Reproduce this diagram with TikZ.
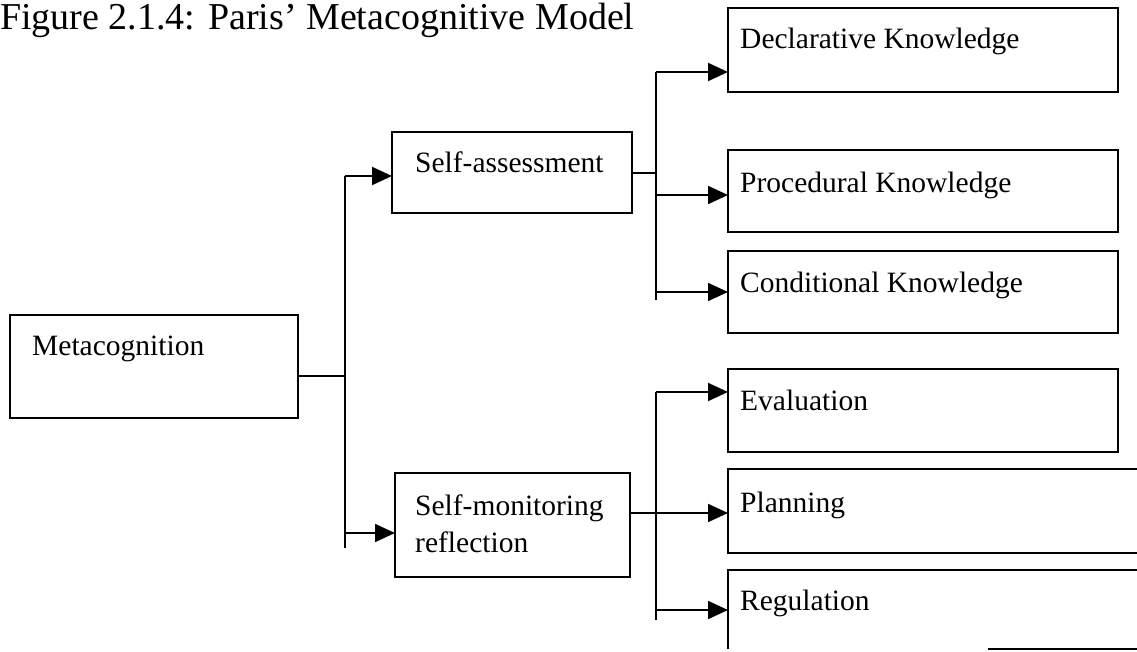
\documentclass[tikz,border=0pt]{standalone}
\usepackage{fontspec}
\setmainfont{Liberation Serif}
\usetikzlibrary{arrows.meta}
\begin{document}
\begin{tikzpicture}[x=1pt,y=-1pt,
  box/.style={draw, line width=1.8pt, rectangle, inner sep=0pt, outer sep=0pt, anchor=north west},
  openbox/.style={rectangle, inner sep=0pt, outer sep=0pt, anchor=north west},
  txt/.style={anchor=base west, inner sep=0pt, font=\fontsize{29.5}{38}\selectfont},
  con/.style={line width=1.8pt},
  arr/.style={con, -{Triangle[length=20pt,width=18pt]}}]
\useasboundingbox (0,0) rectangle (1137,651);
\clip (0,0) rectangle (1137,651);

% title
\node[anchor=base west, inner sep=0pt, font=\fontsize{38}{44}\selectfont] (title) at (0,29) {Figure 2.1.4: Paris’ Metacognitive Model};

% boxes
\node[box, minimum width=288pt, minimum height=103pt] (meta) at (10,315) {};
\node[box, minimum width=240pt, minimum height=81pt] (sa) at (392,132) {};
\node[box, minimum width=235pt, minimum height=104pt] (sm) at (395,473) {};
\node[box, minimum width=390pt, minimum height=84pt] (decl) at (728,8) {};
\node[box, minimum width=390pt, minimum height=82pt] (proc) at (728,150) {};
\node[box, minimum width=390pt, minimum height=82pt] (cond) at (728,251) {};
\node[box, minimum width=390pt, minimum height=83pt] (eval) at (728,369) {};
\node[openbox, minimum width=420pt, minimum height=84pt] (plan) at (728,469) {};
\node[openbox, minimum width=420pt, minimum height=79pt] (reg) at (728,570) {};
\draw[con] (plan.south east) -- (plan.south west) -- (plan.north west) -- (plan.north east);
\draw[con] (reg.south west) -- (reg.north west) -- (reg.north east);
\draw[con] ([xshift=-160pt]reg.south east) -- (reg.south east);

% texts
\node[txt] (meta-t) at (32,355) {Metacognition};
\node[txt] (sa-t) at (415,172) {Self-assessment};
\node[txt] (sm-t1) at (415,515) {Self-monitoring};
\node[txt] (sm-t2) at (415,552) {reflection};
\node[txt] (decl-t) at (740,48) {Declarative Knowledge};
\node[txt] (proc-t) at (740,192) {Procedural Knowledge};
\node[txt] (cond-t) at (740,292) {Conditional Knowledge};
\node[txt] (eval-t) at (740,410) {Evaluation};
\node[txt] (plan-t) at (740,512) {Planning};
\node[txt] (reg-t) at (740,610) {Regulation};

% left trunk
\coordinate (lj) at (345,376);
\coordinate (ltop) at (345,176);
\coordinate (lbot) at (345,548);
\coordinate (lsm) at (345,533);
\draw[con] (meta.east |- lj) -- (lj);
\draw[con] (ltop) -- (lbot);
\draw[arr] (ltop) -- (sa.west |- ltop);
\draw[arr] (lsm) -- (sm.west |- lsm);

% upper right trunk
\coordinate (ujoin) at (656,173);
\coordinate (utop) at (656,72);
\coordinate (ubot) at (656,300);
\coordinate (uproc) at (656,195);
\coordinate (ucond) at (656,292);
\draw[con] (sa.east |- ujoin) -- (ujoin);
\draw[con] (utop) -- (ubot);
\draw[arr] (utop) -- (decl.west |- utop);
\draw[arr] (uproc) -- (proc.west |- uproc);
\draw[arr] (ucond) -- (cond.west |- ucond);

% lower right trunk
\coordinate (dtop) at (656,392);
\coordinate (dbot) at (656,620);
\coordinate (dplan) at (656,513);
\coordinate (dreg) at (656,610);
\draw[con] (dtop) -- (dbot);
\draw[arr] (dtop) -- (eval.west |- dtop);
\draw[arr] (sm.east |- dplan) -- (plan.west |- dplan);
\draw[arr] (dreg) -- (reg.west |- dreg);
\end{tikzpicture}
\end{document}
